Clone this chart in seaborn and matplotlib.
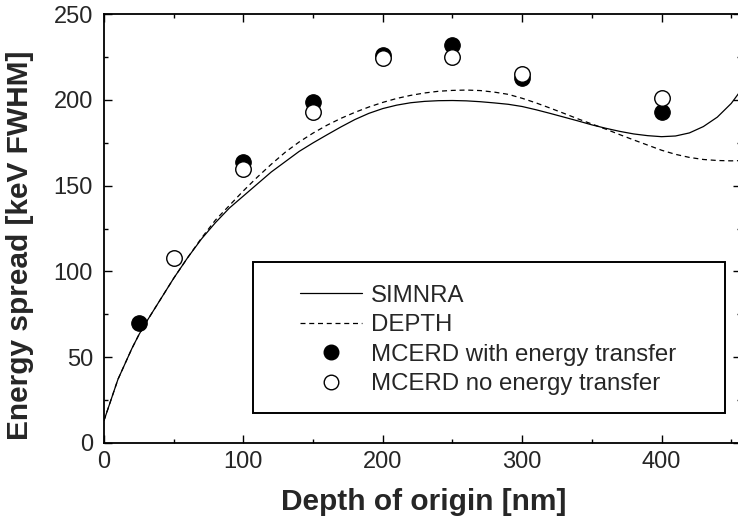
import matplotlib
matplotlib.use("Agg")
import matplotlib.pyplot as plt
from matplotlib.lines import Line2D
from matplotlib.patches import Rectangle
from matplotlib.ticker import MultipleLocator
import seaborn as sns

# SIMNRA curve
simnra_x = [0, 5, 10, 15, 20, 25, 30, 40, 50, 60, 70, 80, 90, 100, 110, 120, 130,
            140, 150, 160, 170, 180, 190, 200, 210, 220, 230, 240, 250, 260, 270,
            280, 290, 300, 310, 320, 330, 340, 350, 360, 370, 380, 390, 400, 410,
            420, 430, 440, 450, 455, 460]
simnra_y = [13, 25, 37, 46, 55, 63, 70, 83, 96, 108, 119, 128.5, 137, 144, 151, 158, 164,
            170, 175, 179.7, 184.3, 188.6, 192.2, 195, 197, 198.4, 199.2, 199.6, 199.7, 199.5, 199,
            198.3, 197.5, 196.2, 194.3, 192.2, 190, 187.8, 185.5, 183.5, 181.7, 180.2, 179.2, 178.6, 179,
            180.8, 184.5, 190, 198, 203.5, 209]

# DEPTH curve
depth_x = [0, 5, 10, 15, 20, 25, 30, 40, 50, 60, 70, 80, 90, 100, 110, 120, 130,
           140, 150, 160, 170, 180, 190, 200, 210, 220, 230, 240, 250, 260, 270,
           280, 290, 300, 310, 320, 330, 340, 350, 360, 370, 380, 390, 400, 410,
           420, 430, 440, 450, 460]
depth_y = [13, 25, 37, 46, 55, 63, 70, 83, 96, 108, 119.5, 130, 138.5, 147, 155, 162.5, 169.5,
           175.5, 180.7, 185.3, 189.3, 192.8, 195.9, 198.6, 200.9, 202.7, 204.1, 205.1, 205.6, 205.8, 205.5,
           204.6, 203.3, 201, 198.3, 195.3, 192.2, 189, 186, 183, 179.8, 176.7, 173.7, 170.7, 168.3,
           166.5, 165.3, 164.7, 164.5, 164.7]

# MCERD points
with_x = [25, 100, 150, 200, 250, 300, 400]
with_y = [70, 164, 199, 226, 232, 213, 193]
no_x = [50, 100, 150, 200, 250, 300, 400]
no_y = [108, 160, 193, 224.5, 225, 215, 201]

labels = ["SIMNRA", "DEPTH", "MCERD with energy transfer", "MCERD no energy transfer"]

sns.set_style("ticks")
plt.rcParams["font.family"] = ["Liberation Sans", "DejaVu Sans"]

fig = plt.figure(figsize=(7.38, 5.26), dpi=100)
ax = fig.add_axes([104 / 738, (526 - 442.8) / 526, 637 / 738, 428.5 / 526])

sns.lineplot(x=simnra_x, y=simnra_y, ax=ax, color="black", lw=0.9, sort=False)
sns.lineplot(x=depth_x, y=depth_y, ax=ax, color="black", lw=0.9, sort=False,
             linestyle=(0, (4, 3)))
sns.scatterplot(x=with_x, y=with_y, ax=ax, s=125, color="black",
                edgecolor="black", linewidth=0.8, zorder=3)
sns.scatterplot(x=no_x, y=no_y, ax=ax, s=125, color="white",
                edgecolor="black", linewidth=1.0, zorder=4)

ax.set_xlim(0, 457)
ax.set_ylim(0, 250)
ax.xaxis.set_major_locator(MultipleLocator(100))
ax.xaxis.set_minor_locator(MultipleLocator(50))
ax.yaxis.set_major_locator(MultipleLocator(50))
ax.yaxis.set_minor_locator(MultipleLocator(25))
ax.tick_params(which="both", direction="in", top=True, right=True, color="black",
               width=1.0)
ax.tick_params(which="major", length=6)
ax.tick_params(which="minor", length=3)
ax.tick_params(axis="x", which="major", labelsize=17, pad=6)
ax.tick_params(axis="y", which="major", labelsize=17, pad=8)
for sp in ax.spines.values():
    sp.set_linewidth(1.3)
    sp.set_color("black")

ax.set_xlabel("Depth of origin [nm]", fontsize=21.5, fontweight="bold")
ax.set_ylabel("Energy spread [keV FWHM]", fontsize=21.5, fontweight="bold")
ax.xaxis.set_label_coords(0.502, -0.105)
ax.yaxis.set_label_coords(-0.11, 0.462)

# legend frame
ax.add_patch(Rectangle((0.234, 0.0695), 0.741, 0.3525, transform=ax.transAxes,
                       fill=False, lw=1.4, edgecolor="black", zorder=5))
handles = [
    Line2D([], [], color="black", lw=0.9),
    Line2D([], [], color="black", lw=0.9, linestyle=(0, (4, 3))),
    Line2D([], [], color="black", marker="o", ls="none", markersize=10.5),
    Line2D([], [], color="black", marker="o", ls="none", markersize=10.5,
           markerfacecolor="white", markeredgewidth=1.0),
]
ax.legend(handles, labels, loc="upper left", bbox_to_anchor=(0.3077, 0.369),
          frameon=False, fontsize=17.3, borderpad=0, borderaxespad=0,
          handlelength=2.6, handletextpad=0.35, labelspacing=0.31, numpoints=1)

fig.savefig("out.png", dpi=100)
